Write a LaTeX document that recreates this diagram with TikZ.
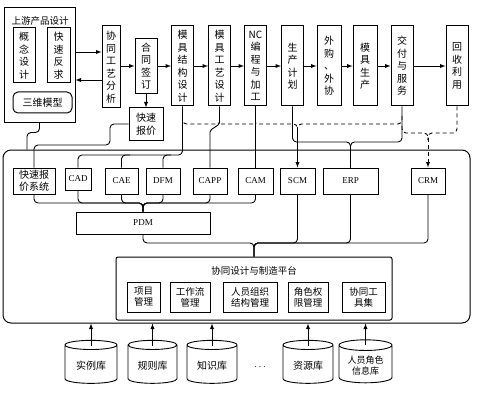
\documentclass[tikz,border=0pt]{standalone}
\usepackage{fontspec}
\setmainfont{Liberation Serif}
\newfontfamily\cjk{Noto Sans CJK SC}
\usetikzlibrary{shapes.geometric}

\tikzset{
  box/.style={draw, line width=1pt, inner sep=1pt, align=center, font=\fontsize{10}{12.5}\selectfont\cjk},
  vbox/.style={box, minimum width=22pt, minimum height=80pt},
  sysbox/.style={box, minimum height=26pt, font=\fontsize{9}{10}\selectfont},
  mbox/.style={box, minimum height=30pt, font=\fontsize{9.5}{11}\selectfont\cjk},
  conn/.style={line width=0.9pt, rounded corners=4pt},
  dconn/.style={conn, dash pattern=on 4pt off 3pt},
  arr/.style={->, >=latex, line width=0.9pt},
  dbase/.style={cylinder, shape border rotate=90, draw, line width=0.9pt, aspect=0.25, align=center,
    minimum height=43pt, font=\fontsize{10}{12}\selectfont\cjk}
}

\begin{document}
\begin{tikzpicture}[x=1pt,y=-1pt]
  \useasboundingbox (0,0) rectangle (500,401);

  % outer frame
  \node[draw, line width=1pt, rounded corners=8pt, minimum width=467pt, minimum height=173pt] (frame) at (236.5,236.5) {};

  % upstream design
  \node[draw, line width=1pt, minimum width=71pt, minimum height=114pt] (up) at (39.5,65) {};
  \node[font=\fontsize{9.5}{11}\selectfont\cjk] (uptitle) at (40,21) {上游产品设计};
  \node[box, minimum width=22pt, minimum height=55pt] (gnsj) at (24,55.5) {概\\念\\设\\计};
  \node[box, minimum width=23pt, minimum height=55pt] (ksfq) at (58.5,55.5) {快\\速\\反\\求};
  \node[box, rounded corners=5pt, minimum width=59pt, minimum height=21pt] (swmx) at (42.5,102.5) {三维模型};

  \node[box, minimum width=18pt, minimum height=82pt] (xtgy) at (111,67) {协\\同\\工\\艺\\分\\析};
  \node[box, minimum width=22pt, minimum height=55pt] (htqd) at (146,66) {合\\同\\签\\订};
  \node[box, minimum width=34pt, minimum height=32pt] (ksbj) at (146,124) {快速\\报价};

  % top row
  \node[vbox] (mjjg) at (182.5,66) {模\\具\\结\\构\\设\\计};
  \node[vbox] (mjgy) at (219.5,66) {模\\具\\工\\艺\\设\\计};
  \node[vbox] (nc) at (255.5,66) {NC\\编\\程\\与\\加\\工};
  \node[vbox] (scjh) at (292.5,66) {生\\产\\计\\划};
  \node[vbox, minimum width=24pt] (wgwx) at (329,66) {外\\购\\、\\外\\协};
  \node[vbox, minimum width=24pt] (mjsc) at (365,66) {模\\具\\生\\产};
  \node[vbox] (jffw) at (402,66) {交\\付\\与\\服\\务};
  \node[vbox] (hsly) at (457,66) {回\\收\\利\\用};

  \draw[arr] (up.east |- 0,52) -- (xtgy.west |- 0,52);
  \draw[arr] (xtgy.west |- 0,80) -- (up.east |- 0,80);
  \draw[arr] (xtgy.east |- htqd.west) -- (htqd.west);
  \draw[arr] (htqd.south) -- (ksbj.north);
  \foreach \a/\b in {htqd/mjjg, mjjg/mjgy, mjgy/nc, nc/scjh, scjh/wgwx, wgwx/mjsc, mjsc/jffw, jffw/hsly}
    \draw[arr] (\a.east) -- (\b.west);

  % systems
  \node[sysbox, font=\fontsize{10}{12}\selectfont\cjk, minimum width=42pt] (ksxt) at (34,181) {快速报\\价系统};
  \node[sysbox, minimum width=26pt, minimum height=22pt] (cad) at (78,179) {CAD};
  \node[sysbox, minimum width=33pt] (cae) at (121.5,181) {CAE};
  \node[sysbox, minimum width=34pt] (dfm) at (163,181) {DFM};
  \node[sysbox, minimum width=34pt] (capp) at (210,181) {CAPP};
  \node[sysbox, minimum width=35pt] (cam) at (255.5,181) {CAM};
  \node[sysbox, minimum width=35pt] (scm) at (297.5,181) {SCM};
  \node[sysbox, minimum width=55pt] (erp) at (350.5,181) {ERP};
  \node[sysbox, minimum width=34pt] (crm) at (428,181) {CRM};
  \node[sysbox, minimum width=134pt, minimum height=22pt] (pdm) at (143,223) {PDM};

  % platform
  \node[draw, line width=1pt, rounded corners=2pt, minimum width=276pt, minimum height=63pt] (ptf) at (254,288.5) {};
  \node[font=\fontsize{9.5}{11}\selectfont\cjk] (ptftitle) at (254,271) {协同设计与制造平台};
  \node[mbox, minimum width=33pt] (xmgl) at (143.5,297) {项目\\管理};
  \node[mbox, minimum width=40pt] (gzlgl) at (190,297) {工作流\\管理};
  \node[mbox, minimum width=54pt] (ryzz) at (250,297) {人员组织\\结构管理};
  \node[mbox, minimum width=40pt] (jsqx) at (308,297) {角色权\\限管理};
  \node[mbox, minimum width=43pt] (xtgj) at (363.5,297) {协同工\\具集};

  % databases
  \node[dbase, minimum width=52pt] (slk) at (91,365.5) {实例库};
  \node[dbase, minimum width=49pt] (gzk) at (152.5,365.5) {规则库};
  \node[dbase, minimum width=50pt] (zsk) at (212,365.5) {知识库};
  \node (dots) at (260,367) {$\cdots$};
  \node[dbase, minimum width=50pt] (zyk) at (308,365.5) {资源库};
  \node[dbase, minimum width=53pt, font=\fontsize{9}{10.5}\selectfont\cjk] (ryjs) at (365.5,365.5) {人员角色\\信息库};
  \foreach \d in {slk,gzk,zsk,zyk,ryjs}
    \draw[arr] ([yshift=-6pt]\d.north) -- (\d.north |- frame.south);

  % links to systems
  \draw[conn] (up.south) -- ++(0,10) -| (frame.north -| 27,0);
  \draw[conn] (ksbj.west) -| (110,145) -| (ksxt.north);
  \draw[conn] (mjjg.south) |- (cad.north |- 0,155) -- (cad.north);
  \draw[conn] (cae.north) |- (130,155);
  \draw[conn] (dfm.north) |- (171,155);
  \draw[conn] (mjgy.south) -- ++(0,12) to[out=-90,in=90] (capp.north |- 0,136) -- (capp.north);
  \draw[conn] (nc.south) -- (cam.north);
  \draw[conn] (scjh.south) |- (erp.north |- 0,142) -- (erp.north);
  \draw[conn] (jffw.south) |- (erp.north |- 0,142) -- (erp.north);

  \draw[dconn] (mjjg.south |- 0,116) |- (213.5,124) to[out=0,in=-90] (mjgy.south |- 0,119)
    to[out=-90,in=180] (225.5,124) -- (249.5,124) to[out=0,in=-90] (nc.south |- 0,119)
    to[out=-90,in=180] (261.5,124) -| (scm.north |- 0,132);
  \draw[dconn] (jffw.south |- 0,116) |- (scm.north |- 0,124) -- (scm.north |- 0,132);
  \draw[arr] (scm.north |- 0,128) -- (scm.north);
  \draw[dconn] (jffw.south |- 0,126) |- (crm.north |- 0,133) -- (crm.north |- 0,140);
  \draw[dconn] (hsly.south) |- (crm.north |- 0,133) -- (crm.north |- 0,140);
  \draw[arr, dash pattern=on 4pt off 3pt] (crm.north |- 0,138) -- (crm.north);

  % links to PDM and platform
  \foreach \s in {ksxt,cad,cae,dfm,capp,cam}
    \draw[conn] (\s.south) |- (pdm.north |- 0,203) -- (pdm.north);
  \foreach \s in {pdm,scm,erp,crm}
    \draw[conn] (\s.south) |- (ptf.north |- 0,243) -- (ptf.north);
\end{tikzpicture}
\end{document}
